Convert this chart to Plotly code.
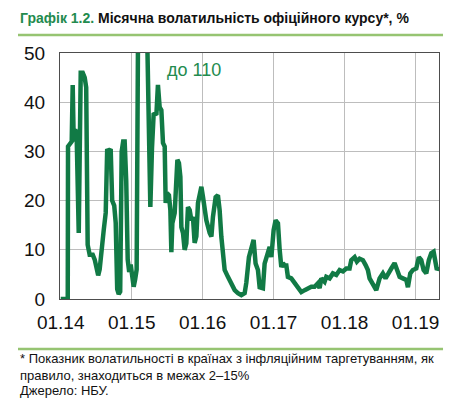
import plotly.graph_objects as go

# decimal years (2014.0 = 01.14) and monthly volatility, %
years = [
    2014.000, 2014.099, 2014.103, 2014.127, 2014.155, 2014.169, 2014.183, 2014.204, 2014.225, 2014.254,
    2014.282, 2014.310, 2014.338, 2014.359, 2014.380, 2014.408, 2014.451, 2014.479, 2014.507, 2014.528,
    2014.549, 2014.570, 2014.606, 2014.634, 2014.655, 2014.676, 2014.704, 2014.725, 2014.754, 2014.775,
    2014.796, 2014.817, 2014.838, 2014.859, 2014.880, 2014.901, 2014.923, 2014.944, 2014.965, 2014.986,
    2015.007, 2015.028, 2015.049, 2015.070, 2015.092, 2015.113, 2015.141, 2015.169, 2015.197, 2015.218,
    2015.230, 2015.263, 2015.286, 2015.310, 2015.348, 2015.370, 2015.394, 2015.418, 2015.441, 2015.465,
    2015.479, 2015.497, 2015.525, 2015.545, 2015.559, 2015.573, 2015.606, 2015.630, 2015.644, 2015.666,
    2015.686, 2015.700, 2015.723, 2015.746, 2015.770, 2015.793, 2015.817, 2015.841, 2015.863, 2015.887,
    2015.911, 2015.934, 2015.958, 2015.982, 2016.004, 2016.028, 2016.052, 2016.099, 2016.123, 2016.145,
    2016.183, 2016.215, 2016.239, 2016.263, 2016.286, 2016.310, 2016.356, 2016.404, 2016.451, 2016.497,
    2016.545, 2016.592, 2016.615, 2016.652, 2016.686, 2016.718, 2016.746, 2016.779, 2016.803, 2016.849,
    2016.873, 2016.897, 2016.920, 2016.944, 2016.968, 2017.000, 2017.028, 2017.061, 2017.085, 2017.108,
    2017.131, 2017.155, 2017.179, 2017.201, 2017.249, 2017.296, 2017.342, 2017.390, 2017.437, 2017.483,
    2017.531, 2017.577, 2017.624, 2017.648, 2017.672, 2017.718, 2017.742, 2017.789, 2017.835, 2017.883,
    2017.930, 2017.976, 2018.024, 2018.070, 2018.094, 2018.141, 2018.173, 2018.211, 2018.258, 2018.296,
    2018.328, 2018.352, 2018.399, 2018.446, 2018.493, 2018.539, 2018.577, 2018.610, 2018.658, 2018.704,
    2018.737, 2018.775, 2018.821, 2018.869, 2018.892, 2018.925, 2018.962, 2019.010, 2019.046, 2019.080,
    2019.113, 2019.151, 2019.187, 2019.221, 2019.254, 2019.282, 2019.300, 2019.328,
]
volatility = [
    0.0, 0.0, 31.0, 31.5, 32.0, 43.5, 32.0, 34.5, 33.0, 13.4,
    46.0, 46.0, 45.0, 43.0, 11.0, 9.0, 9.0, 8.0, 6.0, 4.8,
    6.0, 10.0, 14.0, 17.5, 30.5, 30.0, 30.5, 20.0, 19.0, 15.5,
    2.0, 1.0, 1.5, 30.0, 32.0, 32.0, 24.0, 8.0, 5.5, 7.0,
    5.0, 2.5, 4.0, 6.0, 60.0, 90.0, 110.0, 100.0, 70.0, 50.0,
    40.0, 18.7, 30.6, 37.8, 37.4, 43.5, 39.0, 38.4, 31.7, 31.0,
    19.5, 21.5, 21.1, 18.1, 9.5, 15.4, 17.5, 24.8, 28.3, 27.6,
    24.8, 14.6, 13.4, 10.0, 11.3, 18.7, 18.1, 16.0, 16.7, 11.4,
    12.7, 19.5, 21.5, 22.8, 20.8, 18.7, 16.0, 13.4, 12.7, 16.7,
    20.7, 21.1, 18.1, 12.7, 8.5, 5.9, 4.5, 3.3, 1.8, 1.2,
    0.8, 1.2, 3.3, 8.5, 10.6, 12.0, 7.2, 5.9, 2.4, 2.2,
    7.2, 8.5, 9.5, 10.6, 8.5, 14.0, 16.0, 15.4, 10.0, 6.5,
    7.3, 6.8, 6.8, 4.5, 4.2, 3.2, 2.2, 1.4, 1.8, 2.2,
    2.5, 2.5, 3.2, 2.2, 4.2, 3.5, 4.5, 4.2, 5.2, 4.9,
    5.9, 5.6, 6.2, 6.2, 7.9, 8.5, 7.6, 8.2, 7.9, 6.9,
    5.9, 4.2, 3.2, 1.8, 4.2, 5.2, 4.2, 5.2, 6.2, 7.3,
    5.9, 4.5, 4.2, 3.9, 2.4, 5.2, 5.9, 6.2, 8.5, 7.9,
    5.9, 5.2, 7.9, 9.3, 9.6, 7.2, 5.9, 6.5,
]
tick_years = [2014, 2015, 2016, 2017, 2018, 2019]
tick_labels = ["01.14", "01.15", "01.16", "01.17", "01.18", "01.19"]
y_ticks = [0, 10, 20, 30, 40, 50]

FONT = "Liberation Sans, Arial, sans-serif"
LINE_GREEN = "#117A45"
TITLE_GREEN = "#238B4E"
RULE_GREEN = "#96C472"

fig = go.Figure()
fig.add_trace(go.Scatter(
    x=years, y=volatility, mode="lines",
    line=dict(color=LINE_GREEN, width=4.5),
    hoverinfo="skip", showlegend=False,
))

fig.update_layout(
    width=462, height=399,
    margin=dict(l=60, r=23, t=53, b=100),
    paper_bgcolor="white", plot_bgcolor="white",
    font=dict(family=FONT, color="black"),
    xaxis=dict(
        range=[2013.99, 2019.33], tickmode="array",
        tickvals=tick_years, ticktext=tick_labels,
        showgrid=True, gridcolor="#BDBDBD", gridwidth=1,
        showline=True, linecolor="#4D4D4D", linewidth=1, mirror=True,
        ticks="", tickfont=dict(size=19, family=FONT, color="#111111"),
        ticklabelstandoff=6, zeroline=False,
    ),
    yaxis=dict(
        range=[0, 50], tickmode="array", tickvals=y_ticks,
        showgrid=True, gridcolor="#BDBDBD", gridwidth=1,
        showline=True, linecolor="#4D4D4D", linewidth=1, mirror=True,
        ticks="", tickfont=dict(size=19, family=FONT, color="#111111"),
        ticklabelstandoff=10, zeroline=False,
    ),
)

# title
fig.add_annotation(
    xref="paper", yref="paper", x=-0.1108, y=1.142, xanchor="left", yanchor="middle",
    text=f"<b><span style='color:{TITLE_GREEN}'>Графік 1.2.</span> Місячна волатильність офіційного курсу*, %</b>",
    showarrow=False, font=dict(size=14, family=FONT, color="#111111"),
)
# rules
fig.add_shape(type="line", xref="paper", yref="paper", x0=-0.1108, x1=1.0106, y0=1.073, y1=1.073,
              line=dict(color=RULE_GREEN, width=2.5))
fig.add_shape(type="line", xref="paper", yref="paper", x0=-0.1108, x1=1.0106, y0=-0.203, y1=-0.203,
              line=dict(color=RULE_GREEN, width=2.5))
# peak label
fig.add_annotation(
    x=2015.873, y=46.5, text="до 110", showarrow=False,
    font=dict(size=18, family=FONT, color=TITLE_GREEN), xanchor="center", yanchor="middle",
)
# footnote
foot = ["* Показник волатильності в країнах з інфляційним таргетуванням, як",
        "правило, знаходиться в межах 2–15%",
        "Джерело: НБУ."]
for txt, yy in zip(foot, [-0.240, -0.309, -0.370]):
    fig.add_annotation(xref="paper", yref="paper", x=-0.1108, y=yy, xanchor="left", yanchor="middle",
                       text=txt, showarrow=False, font=dict(size=13, family=FONT, color="#111111"))

fig.write_html("out.html")
